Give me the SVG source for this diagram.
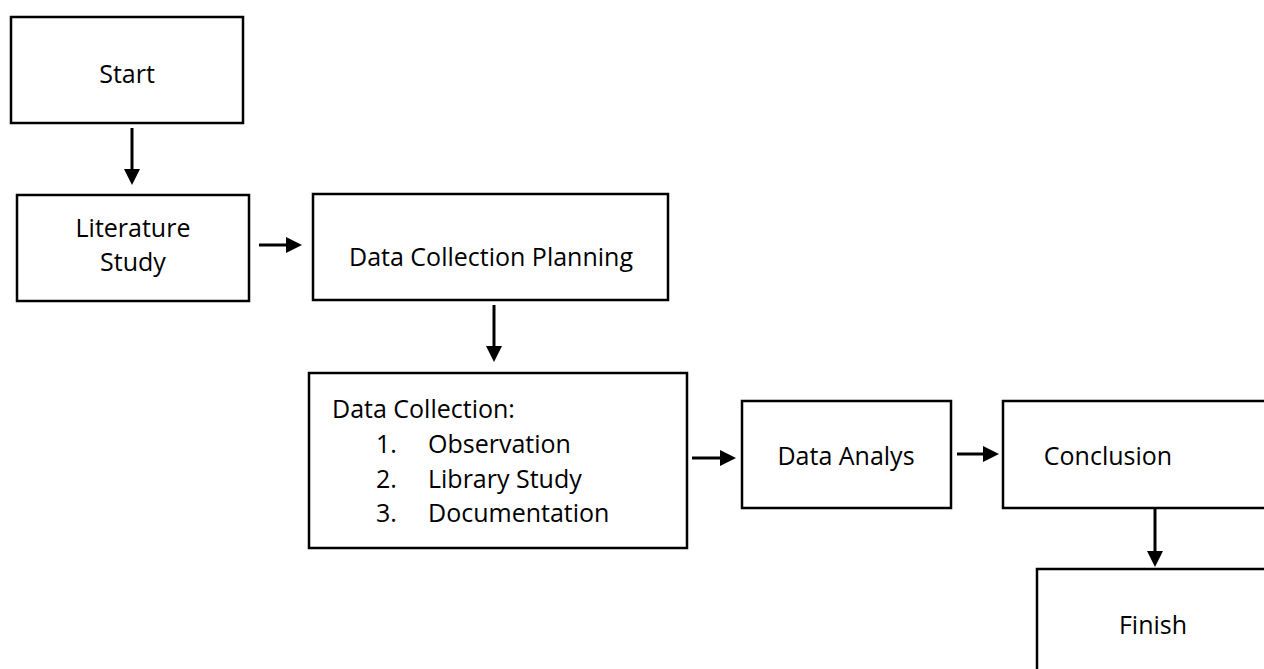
<svg xmlns="http://www.w3.org/2000/svg" width="1264" height="669" viewBox="0 0 1264 669">
<style>
.box{fill:#fff;stroke:#000;stroke-width:2.5}
.t{font-family:"Open Sans","Liberation Sans",sans-serif;font-size:25px;fill:#000}
.c{text-anchor:middle}
.edge{stroke:#000;stroke-width:3;fill:none;marker-end:url(#ah)}
</style>
<defs>
<marker id="ah" markerUnits="userSpaceOnUse" markerWidth="16" markerHeight="16" refX="5" refY="8" orient="auto">
<path d="M0,0 L16,8 L0,16 z" fill="#000"/>
</marker>
</defs>
<rect width="1264" height="669" fill="#fff"/>
<g id="start"><rect class="box" x="11" y="17" width="232" height="106"/><text class="t c" x="127" y="83">Start</text></g>
<g id="literature"><rect class="box" x="17" y="195" width="232" height="106"/><text class="t c" x="133" y="237">Literature</text><text class="t c" x="133" y="271">Study</text></g>
<g id="planning"><rect class="box" x="313" y="194" width="355" height="106"/><text class="t c" x="491" y="266">Data Collection Planning</text></g>
<g id="collection"><rect class="box" x="309" y="373" width="378" height="175"/>
<text class="t" x="332" y="418">Data Collection:</text>
<text class="t" x="376" y="453">1.</text><text class="t" x="428" y="453">Observation</text>
<text class="t" x="376" y="488">2.</text><text class="t" x="428" y="488">Library Study</text>
<text class="t" x="376" y="522">3.</text><text class="t" x="428" y="522">Documentation</text>
</g>
<g id="analysis"><rect class="box" x="742" y="401" width="209" height="107"/><text class="t c" x="846" y="465">Data Analys</text></g>
<g id="conclusion"><rect class="box" x="1003" y="401" width="280" height="107"/><text class="t c" x="1108" y="465">Conclusion</text></g>
<g id="finish"><rect class="box" x="1037" y="569" width="250" height="120"/><text class="t c" x="1153" y="634">Finish</text></g>
<g id="connectors">
<line class="edge" x1="132" y1="128" x2="132" y2="174"/>
<line class="edge" x1="259" y1="245" x2="291" y2="245"/>
<line class="edge" x1="494" y1="305" x2="494" y2="351"/>
<line class="edge" x1="692" y1="458" x2="725" y2="458"/>
<line class="edge" x1="957" y1="454" x2="988" y2="454"/>
<line class="edge" x1="1155" y1="509" x2="1155" y2="556"/>
</g>
</svg>
